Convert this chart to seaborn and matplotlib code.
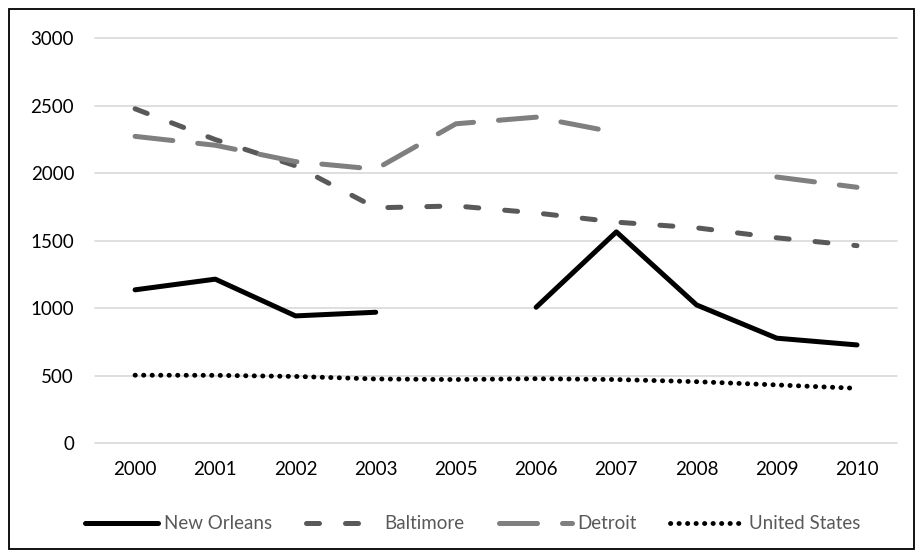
import numpy as np
import pandas as pd
import matplotlib as mpl
mpl.use("Agg")
import matplotlib.pyplot as plt
import seaborn as sns
from matplotlib.lines import Line2D
from matplotlib.patches import Rectangle

years = ["2000", "2001", "2002", "2003", "2005", "2006", "2007", "2008", "2009", "2010"]
new_orleans = [1136, 1215, 943, 970, np.nan, 1007, 1565, 1024, 778, 728]
baltimore = [2476, 2248, 2054, 1743, 1757, 1705, 1637, 1595, 1521, 1463]
detroit = [2272, 2206, 2085, 2029, 2365, 2414, 2300, np.nan, 1971, 1895]
united_states = [504, 503, 495, 476, 472, 478, 472, 456, 432, 407]

series_names = ["New Orleans", "Baltimore", "Detroit", "United States"]

sns.set_theme(style="white")
plt.rcParams['font.family'] = ['Lato', 'DejaVu Sans']

# name -> (values, color, dash pattern, width)
styles = {
    "New Orleans": (new_orleans, "#000000", "-", 3.6),
    "Baltimore": (baltimore, "#595959", (0, (2.6, 5.2)), 3.6),
    "Detroit": (detroit, "#7f7f7f", (0, (7.6, 5.0)), 3.6),
    "United States": (united_states, "#000000", (0, (0.05, 1.7)), 3.5),
}

fig = plt.figure(figsize=(9.22, 5.59), dpi=100)
ax = fig.add_axes([0.103, 0.207, 0.870, 0.725])

pos = np.arange(len(years))
for name in series_names:
    vals, color, ls, lw = styles[name]
    df = pd.DataFrame({"x": pos, "y": vals})
    # split at missing values so gaps stay open
    df["run"] = df["y"].isna().cumsum()
    for _, seg in df.dropna().groupby("run"):
        if len(seg) < 2:
            continue
        sns.lineplot(data=seg, x="x", y="y", ax=ax, color=color, linewidth=lw,
                     linestyle=ls, dash_capstyle="round", solid_capstyle="round",
                     solid_joinstyle="round", legend=False)

ax.set_xlim(-0.5, len(years) - 0.5)
ax.set_ylim(0, 3000)
ax.set_yticks(range(0, 3001, 500))
ax.set_xticks(pos)
ax.set_xticklabels(years)
ax.set_xlabel("")
ax.set_ylabel("")
ax.yaxis.grid(True, color="#d9d9d9", linewidth=1.2)
ax.set_axisbelow(True)
for sp in ax.spines.values():
    sp.set_visible(False)
ax.tick_params(axis="y", length=0, pad=15, labelsize=13.5, labelcolor="#000000")
ax.tick_params(axis="x", length=0, pad=13, labelsize=13.5, labelcolor="#000000")
for gl in ax.get_ygridlines():
    gl.set_clip_on(False)

handles = []
for name in series_names:
    vals, color, ls, lw = styles[name]
    handles.append(Line2D([0], [0], color=color, linewidth=lw, linestyle=ls,
                          dash_capstyle="round", solid_capstyle="round"))
leg = fig.legend(handles, series_names, loc="center", bbox_to_anchor=(0.513, 0.063),
                 ncol=4, frameon=False, fontsize=13.5, handlelength=3.9,
                 handletextpad=0.3, columnspacing=1.8)
for t in leg.get_texts():
    t.set_color("#595959")

fig.patches.append(Rectangle((0.0095, 0.018), 0.982, 0.966, transform=fig.transFigure,
                             fill=False, edgecolor="black", linewidth=1.3))

fig.savefig("out.png", dpi=100)
